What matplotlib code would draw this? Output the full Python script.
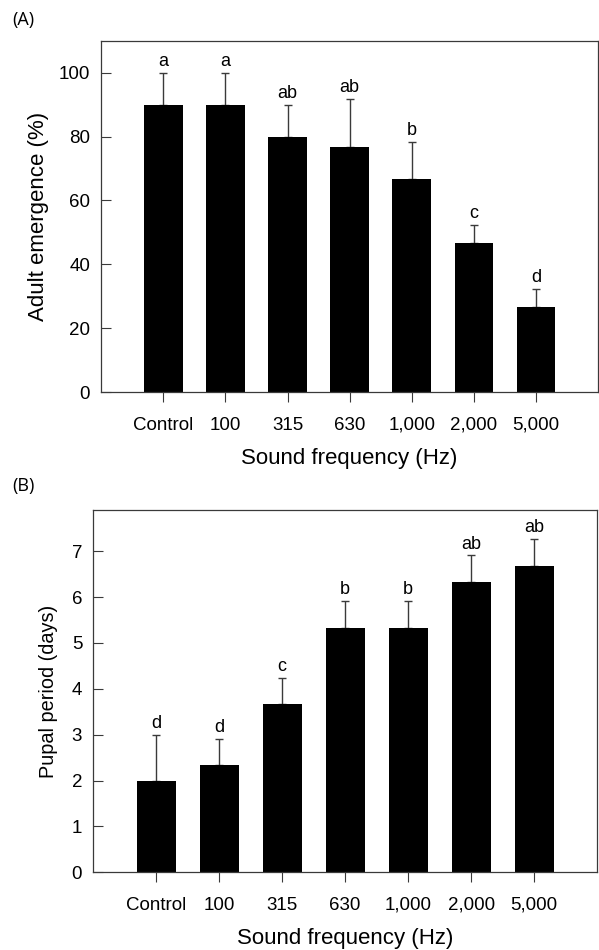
import matplotlib.pyplot as plt
import numpy as np

plt.rcParams['font.family'] = ['Liberation Sans', 'DejaVu Sans']

# Data
freq_labels = ['Control', '100', '315', '630', '1,000', '2,000', '5,000']

emergence = [90, 90, 80, 76.7, 66.7, 46.7, 26.7]
emergence_se = [10, 10, 10, 15.2, 11.6, 5.7, 5.7]
emergence_letters = ['a', 'a', 'ab', 'ab', 'b', 'c', 'd']

pupal = [2.0, 2.33, 3.67, 5.33, 5.33, 6.33, 6.67]
pupal_se = [1.0, 0.58, 0.57, 0.58, 0.58, 0.58, 0.6]
pupal_letters = ['d', 'd', 'c', 'b', 'b', 'ab', 'ab']

edge = '#3a3a3a'

fig = plt.figure(figsize=(5.99, 9.5), dpi=100)
ax1 = fig.add_axes([0.1691, 0.5871, 0.8292, 0.3701])
ax2 = fig.add_axes([0.1558, 0.0818, 0.8409, 0.3814])


def draw_panel(ax, vals, errs, letters, ylim, yticks, ylabel, ylab_size, ylab_pad):
    x = np.arange(1, len(vals) + 1)
    ax.bar(x, vals, width=0.62, color='black', zorder=2)
    ax.errorbar(x, vals, yerr=[np.zeros(len(errs)), errs], fmt='none',
                ecolor=edge, elinewidth=1.0, capsize=3.2, capthick=1.0, zorder=1)
    for xi, v, e, lab in zip(x, vals, errs, letters):
        ax.annotate(lab, (xi, v + e), xytext=(0, 2), textcoords='offset points',
                    ha='center', va='bottom', fontsize=13)
    ax.set_xlim(0, 8)
    ax.set_ylim(*ylim)
    ax.set_yticks(yticks)
    ax.set_xticks(x)
    ax.set_xticklabels(freq_labels)
    ax.tick_params(axis='y', direction='in', length=7, width=0.8, color=edge,
                   labelsize=13.5, pad=8)
    ax.tick_params(axis='x', direction='out', length=7.5, width=0.8, color=edge,
                   labelsize=13.5, pad=10)
    for s in ax.spines.values():
        s.set_color(edge)
        s.set_linewidth(0.9)
    ax.set_ylabel(ylabel, fontsize=ylab_size, labelpad=ylab_pad)
    ax.set_xlabel('Sound frequency (Hz)', fontsize=16, labelpad=10.5)


draw_panel(ax1, emergence, emergence_se, emergence_letters, (0, 110),
           [0, 20, 40, 60, 80, 100], 'Adult emergence (%)', 16, 7)
draw_panel(ax2, pupal, pupal_se, pupal_letters, (0, 7.9),
           [0, 1, 2, 3, 4, 5, 6, 7], 'Pupal period (days)', 14.3, 10)

fig.text(0.02, 0.979, '(A)', fontsize=13, family='Open Sans', va='center')
fig.text(0.02, 0.488, '(B)', fontsize=13, family='Open Sans', va='center')

fig.savefig('out.png', dpi=100)
